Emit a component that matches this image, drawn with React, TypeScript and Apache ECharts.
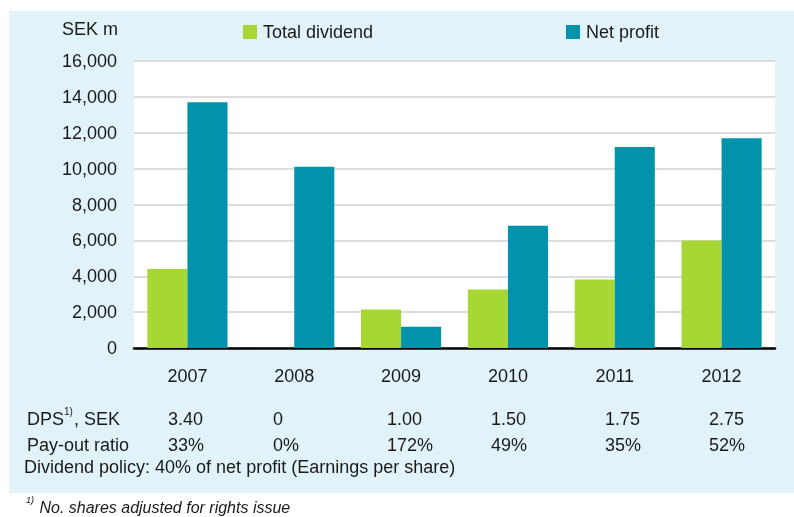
import React, { useEffect, useRef } from "react";
import * as echarts from "echarts";

const years = ["2007", "2008", "2009", "2010", "2011", "2012"];
const totalDividend = [4400, 0, 2150, 3260, 3820, 5990];
const netProfit = [13700, 10100, 1190, 6820, 11200, 11700];
const dps = ["3.40", "0", "1.00", "1.50", "1.75", "2.75"];
const payoutRatio = ["33%", "0%", "172%", "49%", "35%", "52%"];
const yTicks = [0, 2000, 4000, 6000, 8000, 10000, 12000, 14000, 16000];

const FONT = "'Liberation Sans', Arial, sans-serif";
const TXT = "#1a1a1a";
const GREEN = "#a6d733";
const TEAL = "#0093ab";
const PANEL = "#e1f3f8";
// left x of the table value columns (layout)
const COL_X = [168, 273, 387, 491, 605, 709];

export default function App() {
  const ref = useRef<HTMLDivElement>(null);
  useEffect(() => {
    if (!ref.current) return;
    const chart = echarts.init(ref.current, null, { renderer: "svg" });
    const txt = (text: string, x: number, y: number, size = 18, extra: any = {}) => ({
      type: "text",
      x,
      y,
      style: {
        text,
        fill: TXT,
        font: `${extra.fontStyle || "normal"} ${size}px ${FONT}`,
        verticalAlign: "middle",
        align: "left",
      },
    });
    const supText = (
      main1: string,
      sup: string,
      main2: string,
      x: number,
      y: number,
      size: number,
      supSize: number,
      italic: boolean
    ) => ({
      type: "text",
      x,
      y,
      style: {
        text: `{m|${main1}}{s|${sup}}{m|${main2}}`,
        fill: TXT,
        verticalAlign: "middle",
        align: "left",
        rich: {
          m: {
            fontSize: size,
            fontFamily: FONT,
            fontStyle: italic ? "italic" : "normal",
            color: TXT,
            lineHeight: size + 4,
            verticalAlign: "bottom",
          },
          s: {
            fontSize: supSize,
            fontFamily: FONT,
            fontStyle: italic ? "italic" : "normal",
            color: TXT,
            lineHeight: size + 4,
            verticalAlign: "top",
            padding: [0, 1, 0, 0],
          },
        },
      },
    });
    const graphics: any[] = [
      { type: "rect", z: -10, shape: { x: 9, y: 11, width: 785, height: 482 }, style: { fill: PANEL } },
      txt("SEK m", 62, 29),
      supText("DPS", "1)", ", SEK", 27, 417, 18, 10, false),
      txt("Pay-out ratio", 27, 445),
      txt("Dividend policy: 40% of net profit (Earnings per share)", 24, 467),
      supText("", "1)", " No. shares adjusted for rights issue", 26, 505, 16, 9, true),
    ];
    dps.forEach((v, i) => graphics.push(txt(v, COL_X[i], 419)));
    payoutRatio.forEach((v, i) => graphics.push(txt(v, COL_X[i], 445)));

    chart.setOption({
      animation: false,
      textStyle: { fontFamily: FONT, color: TXT },
      graphic: graphics,
      legend: [
        {
          data: ["Total dividend"],
          left: 243,
          top: 23,
          padding: 0,
          itemWidth: 14,
          itemHeight: 14,
          icon: "rect",
          textStyle: { fontSize: 18, color: TXT, fontFamily: FONT, padding: [0, 0, 0, 1] },
        },
        {
          data: ["Net profit"],
          left: 566,
          top: 23,
          padding: 0,
          itemWidth: 14,
          itemHeight: 14,
          icon: "rect",
          textStyle: { fontSize: 18, color: TXT, fontFamily: FONT, padding: [0, 0, 0, 1] },
        },
      ],
      grid: {
        left: 134,
        right: 19,
        top: 61,
        bottom: 169,
        show: true,
        backgroundColor: "#ffffff",
        borderWidth: 0,
      },
      xAxis: {
        type: "category",
        data: years,
        axisLine: { show: true, lineStyle: { color: "#000000", width: 2.5 } },
        axisTick: { show: false },
        axisLabel: { fontSize: 18, color: TXT, fontFamily: FONT, margin: 19 },
      },
      yAxis: {
        type: "value",
        min: yTicks[0],
        max: yTicks[yTicks.length - 1],
        interval: yTicks[1] - yTicks[0],
        axisLine: { show: false },
        axisTick: { show: false },
        splitLine: { show: true, lineStyle: { color: "#d2d2d2", width: 1.5 } },
        axisLabel: {
          fontSize: 18,
          color: TXT,
          fontFamily: FONT,
          margin: 17,
          formatter: (v: number) => v.toLocaleString("en-US"),
        },
      },
      series: [
        {
          name: "Total dividend",
          type: "bar",
          data: totalDividend,
          itemStyle: { color: GREEN },
          barGap: "0%",
          barCategoryGap: "25%",
        },
        {
          name: "Net profit",
          type: "bar",
          data: netProfit,
          itemStyle: { color: TEAL },
          barGap: "0%",
          barCategoryGap: "25%",
        },
      ],
    });
    return () => chart.dispose();
  }, []);
  return (
    <div
      ref={ref}
      style={{ position: "fixed", left: 0, top: 0, width: 794, height: 517 }}
    />
  );
}
